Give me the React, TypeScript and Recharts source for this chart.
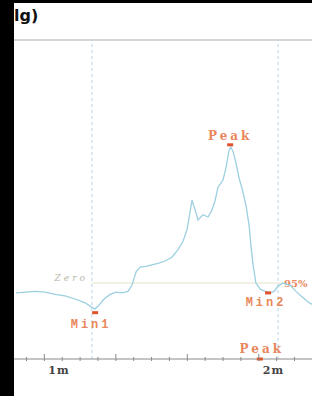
import { LineChart, Line, XAxis, YAxis, ReferenceLine, ReferenceDot } from "recharts"

// time in seconds, pressure relative to the zero line
const times = [
  52.1, 54.6, 57.4, 60.2, 63.0, 65.8, 68.6, 71.4, 73.3, 74.2, 75.3, 76.7, 78.4, 80.1, 81.7, 83.4,
  84.5, 85.7, 86.8, 88.4, 90.1, 91.8, 93.8, 95.7, 97.4, 98.8, 99.9, 100.8, 101.3, 102.2, 103.0,
  104.4, 105.8, 106.9, 107.8, 108.6, 110.0, 110.8, 111.7, 112.2, 112.8, 113.6, 114.5, 115.3,
  116.4, 117.3, 117.8, 118.4, 119.2, 120.4, 121.8, 123.2, 124.3, 125.4, 126.8, 128.8, 130.4,
  132.1, 133.8, 134.9,
]
const pressure = [
  -1.3, -1.2, -1.1, -1.2, -1.5, -1.7, -2.1, -2.6, -3.2, -3.4, -2.9, -2.1, -1.5, -1.2, -1.3, -1.1,
  -0.3, 1.5, 2.1, 2.2, 2.4, 2.6, 2.9, 3.4, 4.4, 5.5, 7.0, 9.4, 10.9, 9.6, 8.3,
  9.0, 8.7, 9.6, 10.9, 12.6, 13.6, 15.1, 17.5, 17.9, 17.3, 15.9, 13.8, 12.5,
  10.3, 7.6, 5.0, 2.4, 0.0, -0.8, -1.1, -1.3, -1.1, -0.4, 0.0, -0.3, -1.1,
  -1.8, -2.5, -2.8,
]

const timeDomain = [51.5, 134.9]
const pressureDomain = [-10, 32]
const tickTimes = [55, 60, 65, 70, 75, 80, 85, 90, 95, 100, 105, 110, 115, 120, 125, 130]
const majorTicks = [60, 80, 100, 120]
const tickLabels: Record<number, string> = { 60: "1m", 120: "2m" }
const eventTimes = [73.3, 125.4]
const zeroSpan = [73.3, 126.8]

const peak = { t: 112.0, v: 18.2 }
const min1 = { t: 74.2, v: -3.9 }
const min2 = { t: 122.6, v: -1.3 }
const axisPeak = { t: 120.3, v: -10 }

const data = times.map((t, i) => ({ t, p: pressure[i] }))

const ORANGE = "#e8875c"
const MARK = "#e0522a"

function TimeTick({ x, y, payload }: any) {
  const major = majorTicks.includes(payload.value)
  const label = tickLabels[payload.value]
  return (
    <g>
      <line x1={x} x2={x} y1={y - (major ? 5 : 2)} y2={y + 2} stroke="#8a8a8a" strokeWidth={1} />
      {label && (
        <text x={x + 4} y={y + 15} fill="#444" fontSize={11} fontWeight="bold" letterSpacing={1} fontFamily="DejaVu Serif">
          {label}
        </text>
      )}
    </g>
  )
}

function marker(text: string, dx: number, dy: number, font: string) {
  return (props: any) => {
    const { cx, cy } = props
    return (
      <g>
        <rect x={cx - 3} y={cy - 1.5} width={6} height={3} fill={MARK} />
        <text
          x={cx + dx}
          y={cy + dy}
          textAnchor="middle"
          fill={ORANGE}
          fontSize={12}
          fontWeight="bold"
          letterSpacing={3}
          fontFamily={font}
        >
          {text}
        </text>
      </g>
    )
  }
}

function ZeroLabel(props: any) {
  const { viewBox } = props
  return (
    <g>
      <text x={viewBox.x - 4} y={viewBox.y - 2} textAnchor="end" fill="#b8b8a8" fontSize={9} letterSpacing={3} fontStyle="italic" fontFamily="DejaVu Serif">
        Zero
      </text>
      <text x={viewBox.x + viewBox.width + 1} y={viewBox.y + 4} fill={ORANGE} fontSize={10} fontWeight="bold" fontFamily="DejaVu Serif">
        95%
      </text>
    </g>
  )
}

export default function App() {
  return (
    <div style={{ position: "fixed", left: 0, top: 0, width: 312, height: 396, background: "#000" }}>
      <div style={{ position: "absolute", left: 14, top: 3, width: 298, height: 393, background: "#fff" }} />
      <div
        style={{
          position: "absolute",
          left: 14,
          top: 6,
          fontFamily: "DejaVu Sans",
          fontWeight: "bold",
          fontSize: 16,
          color: "#111",
          lineHeight: "20px",
        }}
      >
        lg)
      </div>
      <div style={{ position: "absolute", left: 0, top: 0 }}>
        <LineChart width={312} height={396} data={data} margin={{ top: 40, right: 0, bottom: 0, left: 14 }}>
          <XAxis
            dataKey="t"
            type="number"
            domain={timeDomain}
            ticks={tickTimes}
            height={37}
            tickSize={0}
            tickMargin={0}
            tickLine={false}
            tick={<TimeTick />}
            axisLine={{ stroke: "#8a8a8a" }}
            interval={0}
            allowDataOverflow
          />
          <YAxis type="number" domain={pressureDomain} hide allowDataOverflow />
          <ReferenceLine y={pressureDomain[1]} stroke="#c8c8c8" strokeWidth={1.5} ifOverflow="visible" />
          {eventTimes.map((t) => (
            <ReferenceLine key={t} x={t} stroke="#b9d3e6" strokeDasharray="3 3" />
          ))}
          <ReferenceLine
            segment={[
              { x: zeroSpan[0], y: 0 },
              { x: zeroSpan[1], y: 0 },
            ]}
            stroke="#e6e2c8"
            strokeWidth={1}
            label={<ZeroLabel />}
          />
          <Line
            dataKey="p"
            type="linear"
            stroke="#9ccfe0"
            strokeWidth={1.3}
            dot={false}
            isAnimationActive={false}
          />
          <ReferenceDot x={peak.t} y={peak.v} shape={marker("Peak", 0, -5, "DejaVu Serif")} />
          <ReferenceDot x={min1.t} y={min1.v} shape={marker("Min1", -4, 15, "Liberation Mono")} />
          <ReferenceDot x={min2.t} y={min2.v} shape={marker("Min2", -2, 13, "Liberation Mono")} />
          <ReferenceDot
            x={axisPeak.t}
            y={axisPeak.v}
            ifOverflow="visible"
            shape={marker("Peak", 2, -6, "DejaVu Serif")}
          />
        </LineChart>
      </div>
    </div>
  )
}
